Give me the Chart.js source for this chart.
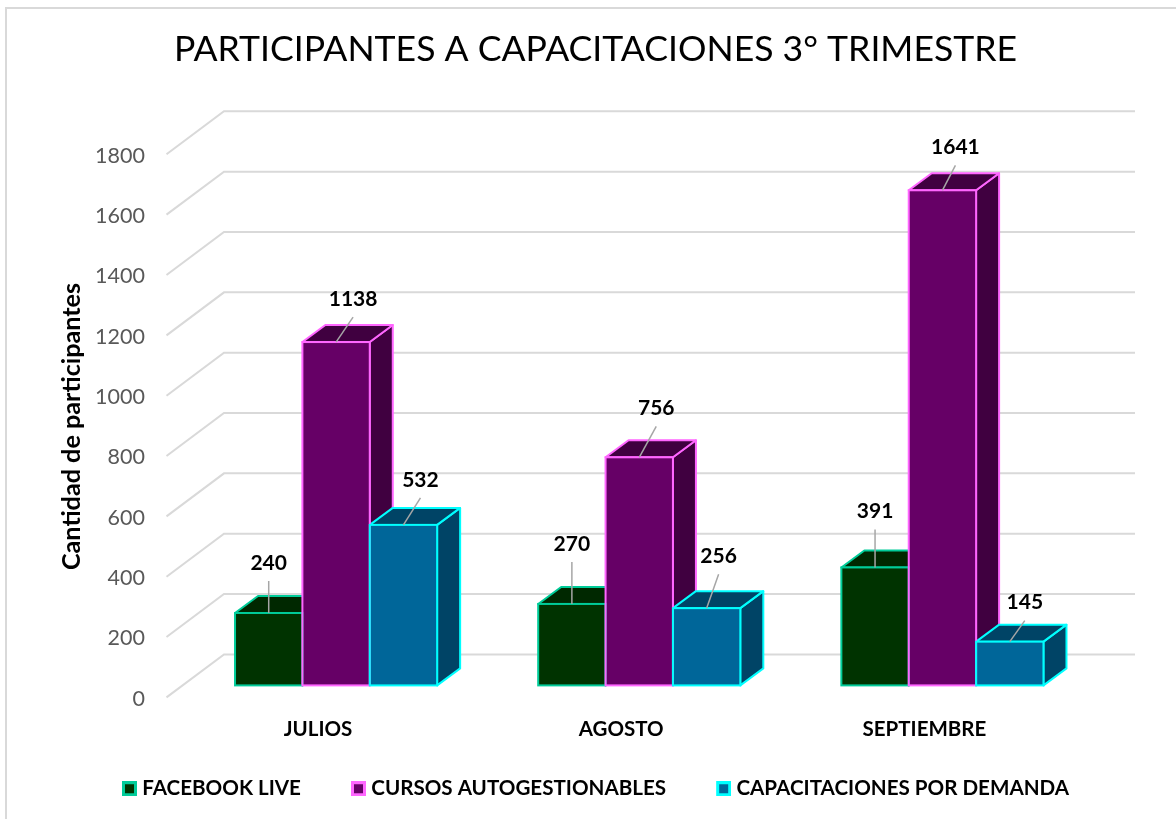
<!DOCTYPE html>
<html>
<head>
<meta charset="utf-8">
<style>html,body{margin:0;padding:0;background:#fff}canvas{display:block}</style>
<script src="https://cdn.jsdelivr.net/npm/chart.js@4/dist/chart.umd.min.js"></script>
</head>
<body>
<canvas id="c" width="1176" height="819" style="width:1176px;height:819px"></canvas>
<script>
const chartTitle = 'PARTICIPANTES A CAPACITACIONES 3° TRIMESTRE';
const yAxisTitle = 'Cantidad de participantes';
const categories = ['JULIOS', 'AGOSTO', 'SEPTIEMBRE'];
const facebookLive = [240, 270, 391];
const cursosAutogestionables = [1138, 756, 1641];
const capacitacionesPorDemanda = [532, 256, 145];
const seriesNames = ['FACEBOOK LIVE', 'CURSOS AUTOGESTIONABLES', 'CAPACITACIONES POR DEMANDA'];
const frontColors = ['#003300', '#660066', '#006699'];
const sideColors = ['#002800', '#400040', '#004466'];
const edgeColors = ['#00cc99', '#ff66ff', '#00ffff'];
// label offsets from the bar's top centre [dx, dy] per series/category
const labelOffsets = [
  [[0, -50], [0, -60], [0, -56]],
  [[17, -43], [17, -49], [13, -43]],
  [[17, -45], [12, -52], [15, -39]]
];
const DX = 23, DY = -17;
const FONT = 'Lato';

function marker(i) {
  const c = document.createElement('canvas');
  c.width = 48; c.height = 15;
  const g = c.getContext('2d');
  g.fillStyle = edgeColors[i]; g.fillRect(33, 0, 15, 15);
  g.fillStyle = frontColors[i]; g.fillRect(36, 3, 9, 9);
  return c;
}

const scene3d = {
  id: 'scene3d',
  beforeDraw(chart) {
    const ctx = chart.ctx;
    ctx.save();
    ctx.fillStyle = '#fff';
    ctx.fillRect(0, 0, chart.width, chart.height);
    ctx.strokeStyle = '#d9d9d9';
    ctx.lineWidth = 2;
    ctx.beginPath();
    ctx.moveTo(6, chart.height); ctx.lineTo(6, 8); ctx.lineTo(chart.width, 8);
    ctx.stroke();
    ctx.restore();
  },
  beforeDatasetsDraw(chart) {
    const ctx = chart.ctx, y = chart.scales.y, area = chart.chartArea;
    ctx.save();
    ctx.strokeStyle = '#d9d9d9';
    ctx.lineWidth = 2;
    y.ticks.forEach(t => {
      const p = y.getPixelForValue(t.value);
      ctx.beginPath();
      ctx.moveTo(area.left - 18, p + 12);
      ctx.lineTo(area.left + 39.5, p - 31);
      ctx.lineTo(area.right + 41, p - 31);
      ctx.stroke();
    });
    ctx.lineJoin = 'round';
    chart.data.datasets.forEach((ds, i) => {
      chart.getDatasetMeta(i).data.forEach(el => {
        const l = el.x - el.width / 2, r = el.x + el.width / 2, t = el.y, b = el.base;
        ctx.strokeStyle = edgeColors[i];
        ctx.fillStyle = sideColors[i];
        ctx.beginPath();
        ctx.moveTo(r, b); ctx.lineTo(r + DX, b + DY); ctx.lineTo(r + DX, t + DY); ctx.lineTo(r, t);
        ctx.closePath(); ctx.fill(); ctx.stroke();
        ctx.beginPath();
        ctx.moveTo(l, t); ctx.lineTo(l + DX, t + DY); ctx.lineTo(r + DX, t + DY); ctx.lineTo(r, t);
        ctx.closePath(); ctx.fill(); ctx.stroke();
      });
    });
    ctx.restore();
  },
  afterDatasetsDraw(chart) {
    const ctx = chart.ctx;
    ctx.save();
    ctx.lineWidth = 2;
    chart.data.datasets.forEach((ds, i) => {
      chart.getDatasetMeta(i).data.forEach(el => {
        ctx.strokeStyle = edgeColors[i];
        ctx.strokeRect(el.x - el.width / 2, el.y, el.width, el.base - el.y);
      });
    });
    ctx.font = 'bold 21px ' + FONT;
    ctx.textAlign = 'center';
    ctx.textBaseline = 'middle';
    chart.data.datasets.forEach((ds, i) => {
      chart.getDatasetMeta(i).data.forEach((el, j) => {
        const o = labelOffsets[i][j];
        ctx.strokeStyle = '#a6a6a6';
        ctx.lineWidth = 1.5;
        ctx.beginPath();
        ctx.moveTo(el.x, el.y);
        ctx.lineTo(el.x + o[0], el.y + o[1] + 18);
        ctx.stroke();
        ctx.fillStyle = '#000';
        ctx.fillText(String(ds.data[j]), el.x + o[0], el.y + o[1]);
      });
    });
    ctx.translate(72, 426.5);
    ctx.rotate(-Math.PI / 2);
    ctx.font = 'bold 25.2px ' + FONT;
    ctx.fillStyle = '#000';
    ctx.fillText(yAxisTitle, 0, 0);
    ctx.restore();
  }
};

new Chart(document.getElementById('c'), {
  type: 'bar',
  data: {
    labels: categories,
    datasets: [facebookLive, cursosAutogestionables, capacitacionesPorDemanda].map((d, i) => ({
      label: seriesNames[i],
      data: d,
      backgroundColor: frontColors[i],
      borderColor: edgeColors[i],
      borderWidth: 0,
      categoryPercentage: 2 / 3,
      barPercentage: 1,
      clip: false
    }))
  },
  options: {
    responsive: false,
    animation: false,
    layout: { padding: { left: 72, right: 57, top: 0, bottom: 10 } },
    plugins: {
      tooltip: { enabled: false },
      title: {
        display: true,
        text: chartTitle,
        color: '#000',
        font: { family: FONT, size: 35.6, weight: 'normal', lineHeight: 1.2 },
        padding: { top: 28.2, bottom: 71.4 }
      },
      legend: {
        position: 'bottom',
        align: 'start',
        labels: {
          color: '#000',
          font: { family: FONT, size: 20.6, weight: 'bold' },
          padding: 22,
          usePointStyle: true,
          pointStyleWidth: 38,
          generateLabels: () => seriesNames.map((n, i) => ({
            text: n, datasetIndex: i, hidden: false, pointStyle: marker(i),
            fontColor: '#000', lineWidth: 0
          }))
        }
      }
    },
    scales: {
      x: {
        grid: { display: false, drawTicks: false },
        border: { display: false },
        afterFit: s => { s.height = 71; },
        ticks: {
          color: '#000', font: { family: FONT, size: 20.5, weight: 'bold' },
          padding: 32, labelOffset: -18, maxRotation: 0, autoSkip: false
        }
      },
      y: {
        min: 0, max: 1800,
        grid: { display: false, drawTicks: false },
        border: { display: false },
        afterFit: s => { s.width = 112.5; },
        ticks: {
          stepSize: 200, color: '#595959', font: { family: FONT, size: 21.5 },
          padding: 39.5, labelOffset: 13.5, autoSkip: false,
          callback: v => String(v)
        }
      },
      spacer: {
        type: 'linear', position: 'right',
        grid: { display: false, drawTicks: false },
        border: { display: false },
        ticks: { display: false },
        afterFit: s => { s.width = 25; }
      }
    }
  },
  plugins: [scene3d]
});
</script>
</body>
</html>
